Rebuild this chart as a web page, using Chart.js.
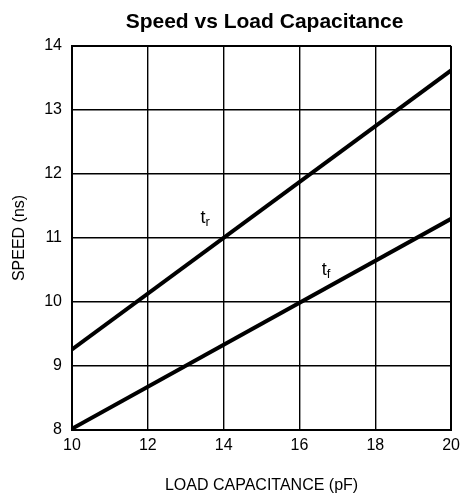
<!DOCTYPE html>
<html lang="en">
<head>
    <meta charset="UTF-8">
    <title>Speed vs Load Capacitance</title>
    <script src="https://cdn.jsdelivr.net/npm/chart.js"></script>
    <style>
        body { margin: 0; background: #fff; }
        .box { width: 466px; height: 495px; }
    </style>
</head>
<body>
    <div class="box"><canvas id="speedChart" width="466" height="495"></canvas></div>

<script>
    // valores
    var capX = [10, 20];
    var riseY = [9.26, 13.62];
    var fallY = [8.02, 11.3];
    var xTicks = [10, 12, 14, 16, 18, 20];
    var yTicks = [8, 9, 10, 11, 12, 13, 14];
    var chartTitle = 'Speed vs Load Capacitance';

    // rotulos t_r e t_f (posicao da linha de base, em unidades dos dados)
    var curveLabels = [
        { base: 't', sub: 'r', x: 13.39, y: 11.23 },
        { base: 't', sub: 'f', x: 16.59, y: 10.42 }
    ];

    function pts(xs, ys) {
        return xs.map(function (x, i) { return { x: x, y: ys[i] }; });
    }

    var FONT = '"Liberation Sans", Arial, sans-serif';

    var labelPlugin = {
        id: 'curveLabels',
        afterDatasetsDraw: function (chart) {
            var ctx = chart.ctx;
            var xs = chart.scales.x, ys = chart.scales.y;
            var area = chart.chartArea;
            ctx.save();
            ctx.fillStyle = '#000';
            ctx.textBaseline = 'alphabetic';
            curveLabels.forEach(function (l) {
                var px = xs.getPixelForValue(l.x);
                var py = ys.getPixelForValue(l.y);
                ctx.font = '18px ' + FONT;
                ctx.fillText(l.base, px, py);
                var w = ctx.measureText(l.base).width;
                ctx.font = '13px ' + FONT;
                ctx.fillText(l.sub, px + w, py + 3);
            });
            // titulo centrado sobre a area do grafico
            ctx.font = 'bold 21px ' + FONT;
            ctx.textAlign = 'center';
            ctx.fillText(chartTitle, (area.left + area.right) / 2 + 3, 28);
            ctx.restore();
        }
    };

    var edgeWidth = function (c) {
        return (c.index === 0 || c.index === c.scale.ticks.length - 1) ? 2 : 1.4;
    };

    Chart.defaults.font.family = FONT;
    Chart.defaults.color = '#000';

    new Chart(document.getElementById('speedChart').getContext('2d'), {
        type: 'scatter',
        data: {
            datasets: [
                { label: 'tr', data: pts(capX, riseY), showLine: true, borderColor: '#000', borderWidth: 4, pointRadius: 0 },
                { label: 'tf', data: pts(capX, fallY), showLine: true, borderColor: '#000', borderWidth: 4, pointRadius: 0 }
            ]
        },
        options: {
            responsive: false,
            animation: false,
            layout: { padding: { top: 46, left: 0, right: 10, bottom: 0 } },
            plugins: {
                legend: { display: false },
                tooltip: { enabled: false },
                title: { display: false }
            },
            scales: {
                x: {
                    type: 'linear',
                    min: 10, max: 20,
                    afterBuildTicks: function (s) { s.ticks = xTicks.map(function (v) { return { value: v }; }); },
                    afterFit: function (s) { s.height = 65; },
                    ticks: { font: { size: 16 }, padding: 6 },
                    grid: { color: '#000', lineWidth: edgeWidth, drawTicks: false },
                    border: { color: '#000', width: 2 },
                    title: { display: true, text: 'LOAD CAPACITANCE (pF)', font: { size: 16 }, padding: { top: 0, bottom: 0 } }
                },
                y: {
                    min: 8, max: 14,
                    afterBuildTicks: function (s) { s.ticks = yTicks.map(function (v) { return { value: v }; }); },
                    afterFit: function (s) { s.width = 72; },
                    ticks: { font: { size: 16 }, padding: 10 },
                    grid: { color: '#000', lineWidth: edgeWidth, drawTicks: false },
                    border: { color: '#000', width: 2 },
                    title: { display: true, text: 'SPEED (ns)', font: { size: 16 }, padding: { top: 10, bottom: 0 } }
                }
            }
        },
        plugins: [labelPlugin]
    });
</script>
</body>
</html>
